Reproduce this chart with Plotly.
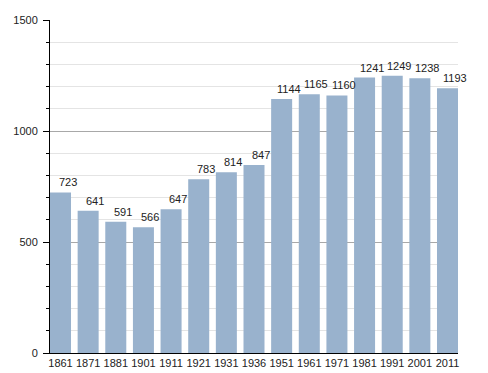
import plotly.graph_objects as go

years = ["1861", "1871", "1881", "1901", "1911", "1921", "1931", "1936",
         "1951", "1961", "1971", "1981", "1991", "2001", "2011"]
population = [723, 641, 591, 566, 647, 783, 814, 847,
              1144, 1165, 1160, 1241, 1249, 1238, 1193]

fig = go.Figure()
fig.add_trace(go.Bar(
    x=years, y=population,
    marker=dict(color="#99B2CD", line=dict(width=0)),
    hoverinfo="x+y",
))

for i, v in enumerate(population):
    fig.add_annotation(x=i, y=v, text=str(v), showarrow=False,
                       yanchor="bottom", xanchor="center",
                       xshift=7, yshift=2,
                       font=dict(family="Liberation Sans, Arial", size=11, color="#222"))

fig.update_layout(
    width=488, height=373,
    margin=dict(l=50, r=30, t=20, b=20, autoexpand=False),
    paper_bgcolor="white", plot_bgcolor="white",
    bargap=0.24,
    showlegend=False,
    font=dict(family="Liberation Sans, Arial", size=11, color="#222"),
    xaxis=dict(
        type="category", range=[-0.38, 14.38],
        showline=True, linecolor="black", linewidth=1,
        ticks="", showgrid=False, automargin=False,
        tickfont=dict(size=11),
    ),
    yaxis=dict(
        range=[0, 1500], dtick=500, tick0=0,
        showline=True, linecolor="black", linewidth=1,
        ticks="outside", ticklen=6, tickcolor="black",
        gridcolor="#A8A8A8", gridwidth=1,
        zeroline=False, automargin=False,
        ticklabelstandoff=3,
        tickfont=dict(size=11),
        minor=dict(dtick=100, ticks="outside", ticklen=3, tickcolor="black",
                   showgrid=True, gridcolor="#E4E4E4", gridwidth=1),
    ),
)

fig.write_html("out.html", config={"displayModeBar": False})

with open("out.html", "r", encoding="utf-8") as f:
    html = f.read()
html = html.replace("<head>", "<head><style>html,body{margin:0;padding:0;overflow:hidden;}</style>", 1)
with open("out.html", "w", encoding="utf-8") as f:
    f.write(html)
